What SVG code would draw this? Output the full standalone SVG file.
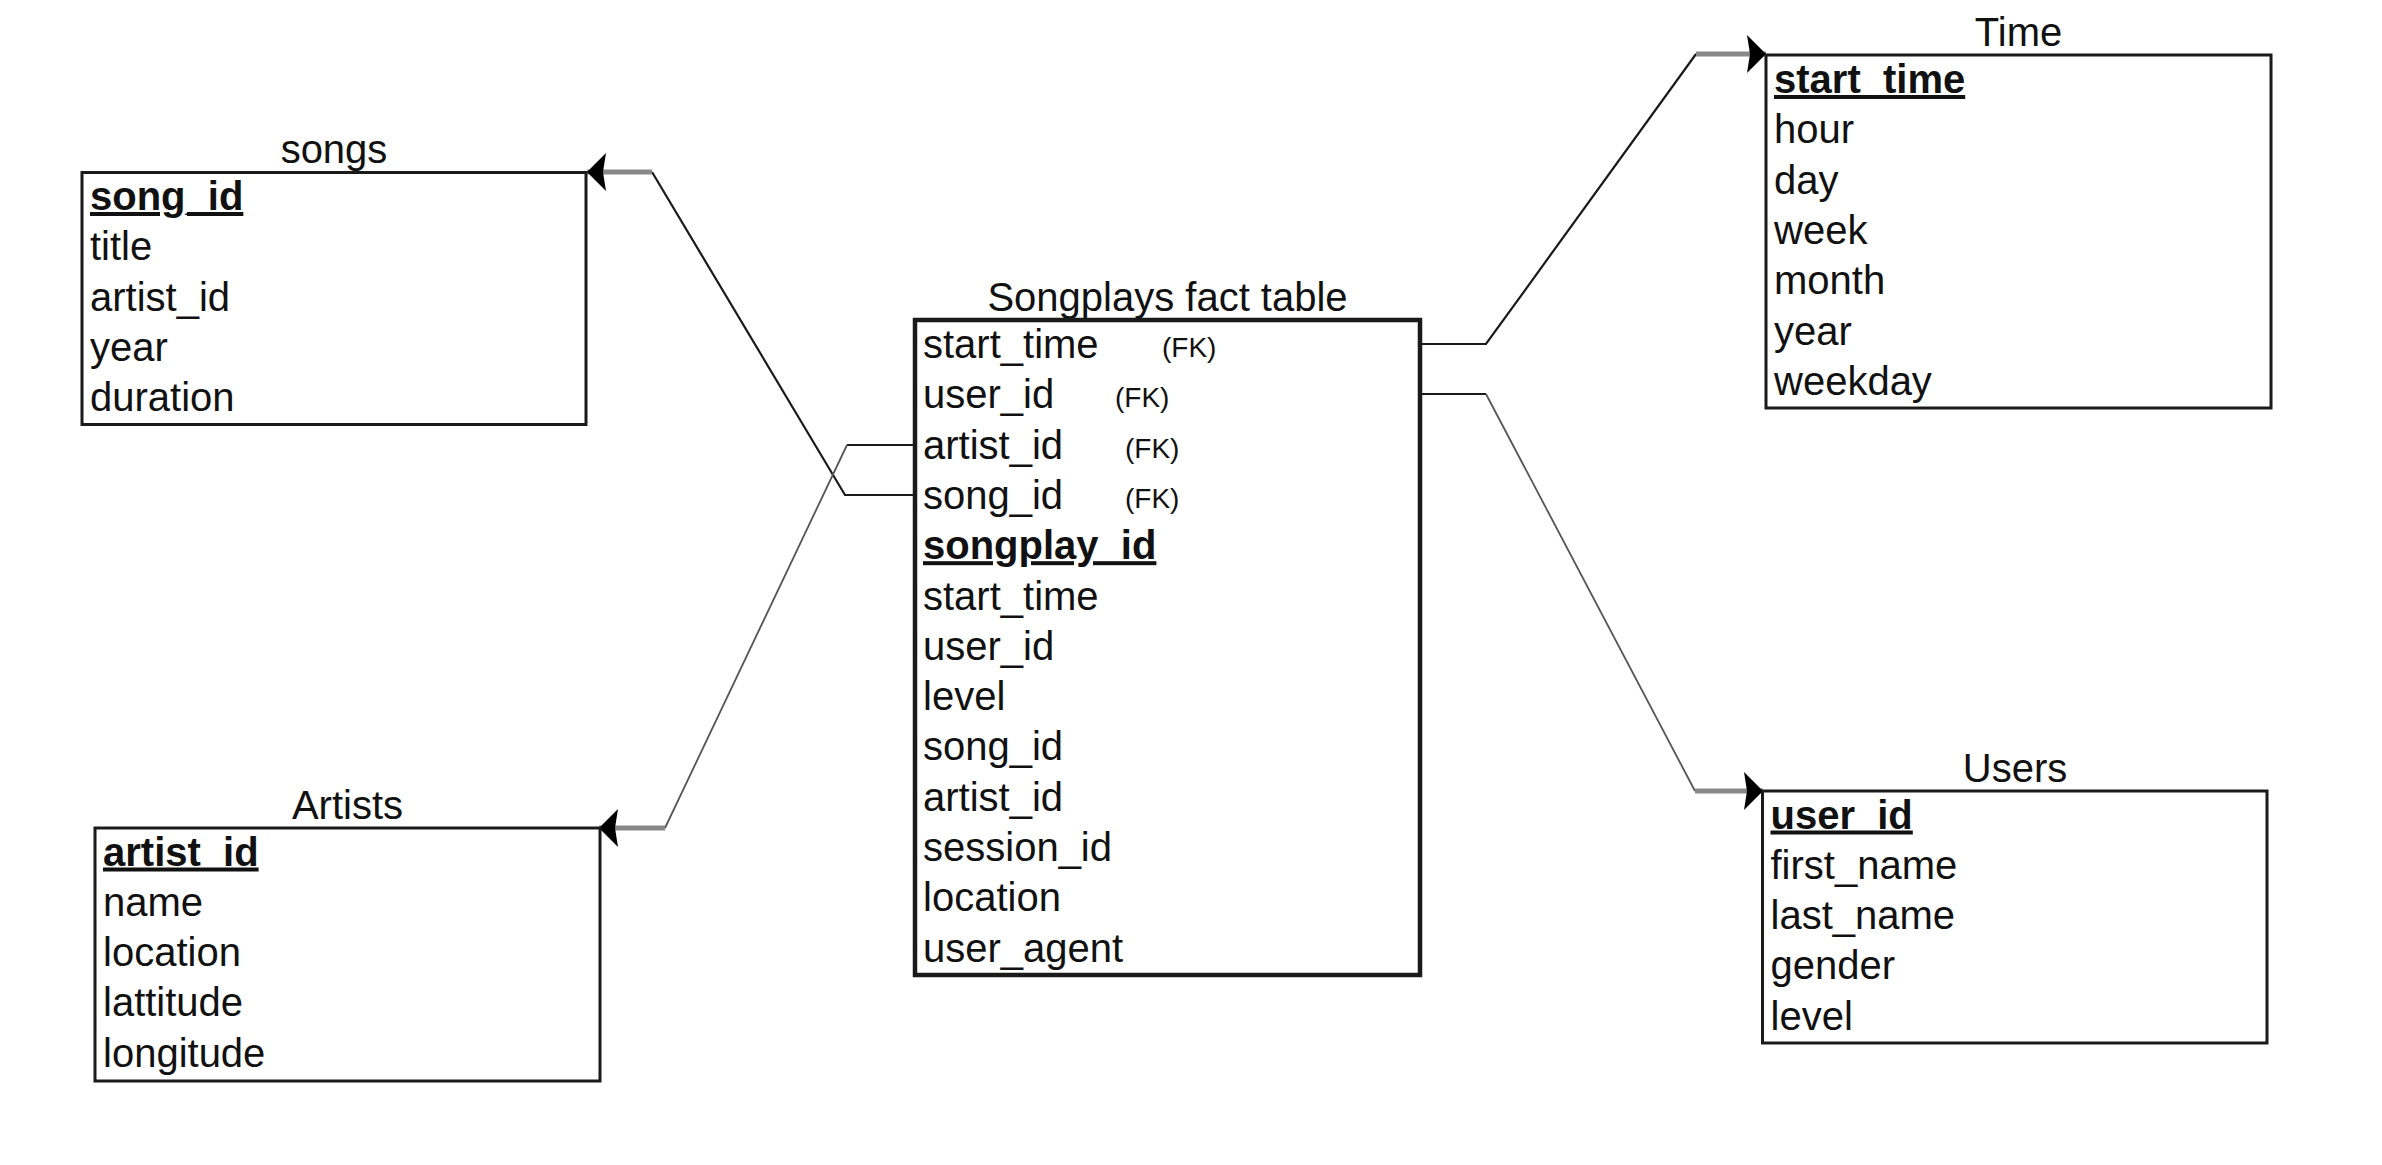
<svg xmlns="http://www.w3.org/2000/svg" width="2382" height="1165" viewBox="0 0 2382 1165">
<style>
  text { font-family: "Liberation Sans", Arial, sans-serif; fill: #111; }
  .title { font-size: 40px; text-anchor: middle; }
  .field { font-size: 40px; }
  .pk { font-size: 40px; font-weight: bold; text-decoration: underline; }
  .fk { font-size: 28px; }
  .box { fill: #fff; stroke: #1a1a1a; stroke-width: 3; }
  .fact { fill: #fff; stroke: #1a1a1a; stroke-width: 4.5; }
  .edge { fill: none; stroke: #1a1a1a; stroke-width: 2.2; }
  .edge-light { fill: none; stroke: #555; stroke-width: 1.8; }
  .edge-end { fill: none; stroke: #888; stroke-width: 5; }
</style>
<defs>
  <marker id="arrow" markerUnits="userSpaceOnUse" viewBox="0 0 19 38" refX="19" refY="19" markerWidth="19" markerHeight="38" orient="auto">
    <path d="M0,0 L19,19 L0,38 L3,19 Z" fill="#000"/>
  </marker>
</defs>
<rect width="2382" height="1165" fill="#fff"/>

<g id="connectors">
  <g id="edge-songs">
    <path class="edge" d="M913,495 H845 L652,172"/>
    <path class="edge-end" d="M652,172 H587" marker-end="url(#arrow)"/>
  </g>
  <g id="edge-artists">
    <path class="edge" d="M913,445 H847"/>
    <path class="edge-light" d="M847,445 L665,828"/>
    <path class="edge-end" d="M665,828 H599" marker-end="url(#arrow)"/>
  </g>
  <g id="edge-time">
    <path class="edge" d="M1420,344 H1486 L1696,54"/>
    <path class="edge-end" d="M1696,54 H1766" marker-end="url(#arrow)"/>
  </g>
  <g id="edge-users">
    <path class="edge" d="M1420,394 H1486"/>
    <path class="edge-light" d="M1486,394 L1695,791"/>
    <path class="edge-end" d="M1695,791 H1763" marker-end="url(#arrow)"/>
  </g>
</g>

<g id="songs">
  <text class="title" x="334" y="163">songs</text>
  <rect class="box" x="82" y="172.5" width="504" height="252"/>
  <text class="pk" x="90" y="210">song_id</text>
  <text class="field" x="90" y="260.3">title</text>
  <text class="field" x="90" y="310.6">artist_id</text>
  <text class="field" x="90" y="360.9">year</text>
  <text class="field" x="90" y="411.2">duration</text>
</g>

<g id="artists">
  <text class="title" x="347.5" y="818.5">Artists</text>
  <rect class="box" x="95" y="828" width="505" height="253"/>
  <text class="pk" x="103" y="865.5">artist_id</text>
  <text class="field" x="103" y="915.8">name</text>
  <text class="field" x="103" y="966.1">location</text>
  <text class="field" x="103" y="1016.4">lattitude</text>
  <text class="field" x="103" y="1066.7">longitude</text>
</g>

<g id="fact">
  <text class="title" x="1167.5" y="310.5">Songplays fact table</text>
  <rect class="fact" x="915" y="320" width="505" height="655"/>
  <text class="field" x="923" y="358">start_time</text>
  <text class="fk" x="1162" y="357">(FK)</text>
  <text class="field" x="923" y="408.3">user_id</text>
  <text class="fk" x="1115" y="407.3">(FK)</text>
  <text class="field" x="923" y="458.6">artist_id</text>
  <text class="fk" x="1125" y="457.6">(FK)</text>
  <text class="field" x="923" y="508.9">song_id</text>
  <text class="fk" x="1125" y="507.9">(FK)</text>
  <text class="pk" x="923" y="559.2">songplay_id</text>
  <text class="field" x="923" y="609.5">start_time</text>
  <text class="field" x="923" y="659.8">user_id</text>
  <text class="field" x="923" y="710.1">level</text>
  <text class="field" x="923" y="760.4">song_id</text>
  <text class="field" x="923" y="810.7">artist_id</text>
  <text class="field" x="923" y="861">session_id</text>
  <text class="field" x="923" y="911.3">location</text>
  <text class="field" x="923" y="961.6">user_agent</text>
</g>

<g id="time">
  <text class="title" x="2018.5" y="45.5">Time</text>
  <rect class="box" x="1766" y="55" width="505" height="353"/>
  <text class="pk" x="1774" y="93">start_time</text>
  <text class="field" x="1774" y="143.3">hour</text>
  <text class="field" x="1774" y="193.6">day</text>
  <text class="field" x="1774" y="243.9">week</text>
  <text class="field" x="1774" y="294.2">month</text>
  <text class="field" x="1774" y="344.5">year</text>
  <text class="field" x="1774" y="394.8">weekday</text>
</g>

<g id="users">
  <text class="title" x="2015" y="781.5">Users</text>
  <rect class="box" x="1762.5" y="791" width="504.5" height="252"/>
  <text class="pk" x="1770.5" y="828.5">user_id</text>
  <text class="field" x="1770.5" y="878.8">first_name</text>
  <text class="field" x="1770.5" y="929.1">last_name</text>
  <text class="field" x="1770.5" y="979.4">gender</text>
  <text class="field" x="1770.5" y="1029.7">level</text>
</g>
</svg>
